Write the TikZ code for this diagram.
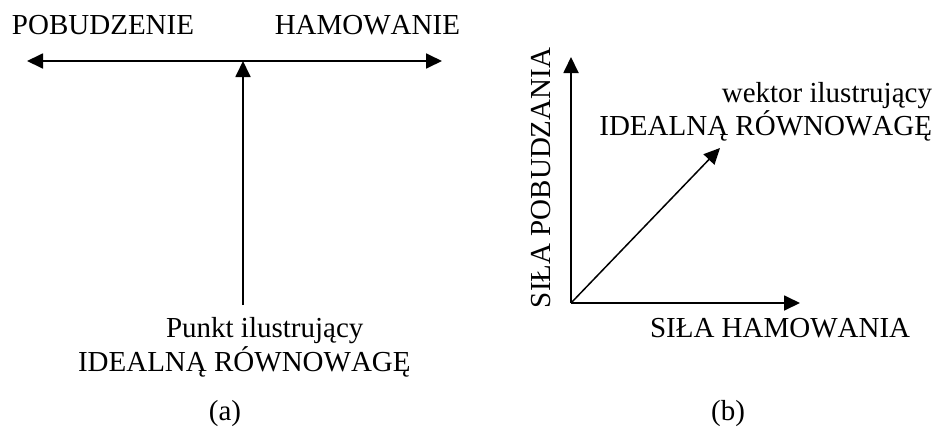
\documentclass[tikz,border=0pt]{standalone}
\usepackage{fontspec}
\setmainfont[Kerning=Off]{Liberation Serif}
\usetikzlibrary{arrows.meta}
\begin{document}
\begin{tikzpicture}[x=1pt,y=-1pt,
  lbl/.style={inner sep=0pt,outer sep=0pt,font=\fontsize{29}{33}\selectfont},
  axis/.style={line width=1.8pt,-{Triangle[length=16pt,width=15pt]}},
  axis2/.style={line width=1.8pt,{Triangle[length=16pt,width=15pt]}-{Triangle[length=16pt,width=15pt]}}]
\useasboundingbox (0,0) rectangle (936,426);
% panel (a)
\node[lbl,anchor=base west] (pob) at (12,34) {POBUDZENIE};
\node[lbl,anchor=base east] (ham) at (460,34) {HAMOWANIE};
\coordinate (L) at (27,61);
\coordinate (R) at (442,61);
\coordinate (M) at (243,61);
\coordinate (B) at (243,305);
\draw[axis2] (L) -- (R);
\draw[axis] (B) -- (M);
\node[lbl,anchor=base west] (punkt) at (166,337) {Punkt ilustrujący};
\node[lbl,anchor=base west] (ideala) at (78,371) {IDEALNĄ RÓWNOWAGĘ};
\node[lbl,anchor=base] (capa) at (225,420) {(a)};
% panel (b)
\coordinate (O) at (571,303);
\coordinate (Y) at (571,57);
\coordinate (X) at (800,303);
\coordinate (V) at (720,148);
\draw[axis] (O) -- (Y);
\draw[axis] (O) -- (X);
\draw[axis,line width=1.5pt] (O) -- (V);
\node[lbl,anchor=base west,rotate=90] (sp) at (550,308) {SIŁA POBUDZANIA};
\node[lbl,anchor=base west] (sh) at (650,337) {SIŁA HAMOWANIA};
\node[lbl,anchor=base east] (wek) at (932,102) {wektor ilustrujący};
\node[lbl,anchor=base east] (idealb) at (932,135) {IDEALNĄ RÓWNOWAGĘ};
\node[lbl,anchor=base] (capb) at (728,420) {(b)};
\end{tikzpicture}
\end{document}
